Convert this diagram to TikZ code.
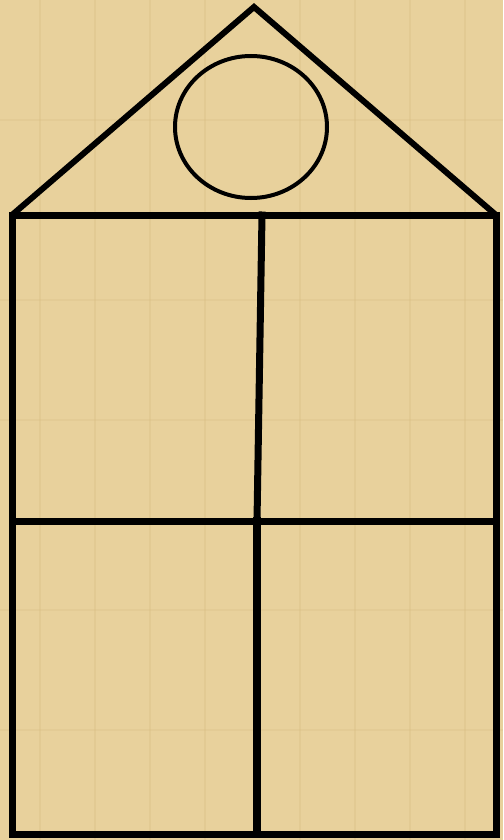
\documentclass[tikz,border=0pt]{standalone}
\definecolor{papyrus}{HTML}{E8D19C}
\definecolor{papyrusdark}{HTML}{D9BF85}
\begin{document}
\begin{tikzpicture}[x=1pt,y=-1pt,
  wall/.style={line width=7pt,line join=miter,line cap=rect},
  roof/.style={line width=6pt,line join=miter},
  window/.style={line width=4pt}]
\fill[papyrus] (0,0) rectangle (503,840);
\useasboundingbox (0,0) rectangle (503,840);
% faint texture
\foreach \x in {40,95,150,205,300,355,410,465}
  \draw[papyrusdark,opacity=0.35,line width=1.5pt] (\x,0) -- (\x,840);
\foreach \y in {120,300,420,610,730}
  \draw[papyrusdark,opacity=0.3,line width=1.5pt] (0,\y) -- (503,\y);
% coordinates
\coordinate (apex) at (254,7);
\coordinate (rl) at (12,215);
\coordinate (rr) at (496,215);
\coordinate (bl) at (12,834);
\coordinate (br) at (496,834);
\coordinate (ml) at (12,521);
\coordinate (mr) at (496,521);
\coordinate (ut) at (262,215);
\coordinate (mm) at (257,521);
\coordinate (mb) at (257,834);
% roof
\draw[roof] (rl) -- (apex) -- (rr);
% walls
\draw[wall] (rl) -- (rr);
\draw[wall] (rl) -- (bl) -- (br) -- (rr);
\draw[wall] (ml) -- (mr);
\draw[wall] (ut) -- (mm);
\draw[wall,line width=8pt] (mm) -- (mb);
% round window
\draw[window] (251,127) ellipse [x radius=76, y radius=71];
\end{tikzpicture}
\end{document}
